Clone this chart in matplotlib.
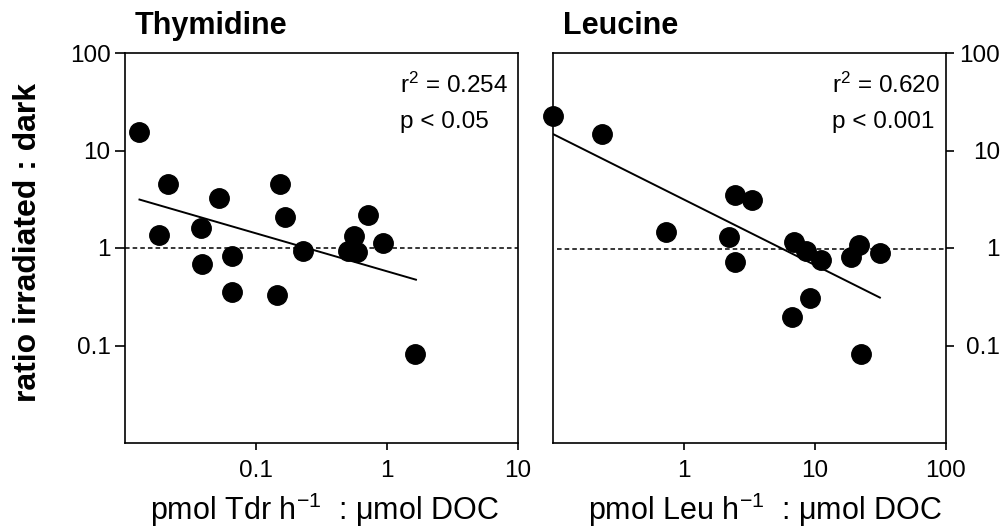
import matplotlib
matplotlib.use("Agg")
import matplotlib.pyplot as plt
from matplotlib.ticker import FixedLocator, NullLocator

plt.rcParams["font.family"] = ["Liberation Sans", "DejaVu Sans"]
plt.rcParams["mathtext.fontset"] = "custom"
plt.rcParams["mathtext.rm"] = "Liberation Sans"
plt.rcParams["mathtext.it"] = "Liberation Sans:italic"
plt.rcParams["mathtext.bf"] = "Liberation Sans:bold"

# Thymidine panel
tdr_x = [0.0129, 0.0212, 0.0181, 0.0378, 0.0387, 0.0519, 0.0656, 0.0656, 0.154,
         0.166, 0.145, 0.23, 0.502, 0.596, 0.565, 0.723, 0.93, 1.65]
tdr_y = [15.6, 4.55, 1.36, 1.6, 0.69, 3.24, 0.83, 0.35, 4.52,
         2.06, 0.33, 0.93, 0.94, 0.92, 1.33, 2.17, 1.12, 0.081]
tdr_fit_x = [0.0129, 1.67]
tdr_fit_y = [3.14, 0.473]
tdr_ref_y = 1.0
tdr_stats = ["r$^2$ = 0.254", "p < 0.05"]

# Leucine panel
leu_x = [0.1, 0.236, 0.723, 2.21, 2.45, 3.29, 2.46, 6.98, 8.59, 11.2,
         9.1, 6.7, 19.0, 21.6, 31.4, 22.7]
leu_y = [22.4, 14.9, 1.45, 1.31, 3.47, 3.08, 0.72, 1.14, 0.94, 0.76,
         0.31, 0.195, 0.81, 1.08, 0.88, 0.082]
leu_fit_x = [0.1, 31.4]
leu_fit_y = [14.7, 0.31]
leu_ref_y = 0.975
leu_stats = ["r$^2$ = 0.620", "p < 0.001"]

y_ticks = [0.1, 1, 10, 100]
y_ticklabels = ["0.1", "1", "10", "100"]
tdr_xticks = [0.1, 1, 10]
tdr_xticklabels = ["0.1", "1", "10"]
leu_xticks = [1, 10, 100]
leu_xticklabels = ["1", "10", "100"]

W, H = 1003, 529
fig = plt.figure(figsize=(W / 100, H / 100), dpi=100)
ax1 = fig.add_axes([125 / W, 1 - 443 / H, (517.7 - 125) / W, (443 - 53) / H])
ax2 = fig.add_axes([553.3 / W, 1 - 443 / H, (945.7 - 553.3) / W, (443 - 53) / H])


def style_axes(ax, xticks, xlabels, xlim):
    ax.set_xscale("log")
    ax.set_yscale("log")
    ax.set_xlim(*xlim)
    ax.set_ylim(0.01, 100)
    ax.xaxis.set_major_locator(FixedLocator(xticks))
    ax.xaxis.set_minor_locator(NullLocator())
    ax.yaxis.set_major_locator(FixedLocator(y_ticks))
    ax.yaxis.set_minor_locator(NullLocator())
    ax.set_xticklabels(xlabels)
    ax.set_yticklabels(y_ticklabels)
    for s in ax.spines.values():
        s.set_linewidth(1.2)
    ax.tick_params(axis="x", length=5, width=1.2, pad=7, labelsize=17.5)
    ax.tick_params(axis="y", length=7, width=1.2, pad=3.5, labelsize=17.5)


style_axes(ax1, tdr_xticks, tdr_xticklabels, (0.01, 10))
style_axes(ax2, leu_xticks, leu_xticklabels, (0.1, 100))

ax2.yaxis.tick_right()
ax2.tick_params(axis="y", length=6, pad=33)
plt.setp(ax2.get_yticklabels(), ha="right")

# Thymidine
ax1.axhline(tdr_ref_y, color="black", lw=1.1, ls=(0, (3, 2)), zorder=1)
ax1.plot(tdr_fit_x, tdr_fit_y, color="black", lw=1.4, zorder=2)
ax1.plot(tdr_x, tdr_y, "o", color="black", ms=14, clip_on=False, zorder=3)
ax1.text(0.70, 0.897, tdr_stats[0], transform=ax1.transAxes, fontsize=17.5,
         va="baseline", ha="left")
ax1.text(0.70, 0.808, tdr_stats[1], transform=ax1.transAxes, fontsize=17.5,
         va="baseline", ha="left")

# Leucine
ax2.hlines(leu_ref_y, 0.107, 100, color="black", lw=1.1, ls=(0, (3, 2)), zorder=1)
ax2.plot(leu_fit_x, leu_fit_y, color="black", lw=1.4, zorder=2)
ax2.plot(leu_x, leu_y, "o", color="black", ms=14, clip_on=False, zorder=3)
ax2.text(0.71, 0.897, leu_stats[0], transform=ax2.transAxes, fontsize=17.5,
         va="baseline", ha="left")
ax2.text(0.71, 0.808, leu_stats[1], transform=ax2.transAxes, fontsize=17.5,
         va="baseline", ha="left")

# titles and axis labels
fig.text(135 / W, 1 - 34 / H, "Thymidine", fontsize=22, fontweight="bold",
         ha="left", va="baseline")
fig.text(563 / W, 1 - 34 / H, "Leucine", fontsize=22, fontweight="bold",
         ha="left", va="baseline")
fig.text(28 / W, 1 - 243 / H, "ratio irradiated : dark", fontsize=23,
         fontweight="bold", rotation=90, ha="center", va="center")
fig.text(324 / W, 1 - 520 / H, "pmol Tdr h$^{-1}$  : \u03bcmol DOC", fontsize=22,
         ha="center", va="baseline")
fig.text(765 / W, 1 - 520 / H, "pmol Leu h$^{-1}$  : \u03bcmol DOC", fontsize=22,
         ha="center", va="baseline")

fig.savefig("out.png", dpi=100)
